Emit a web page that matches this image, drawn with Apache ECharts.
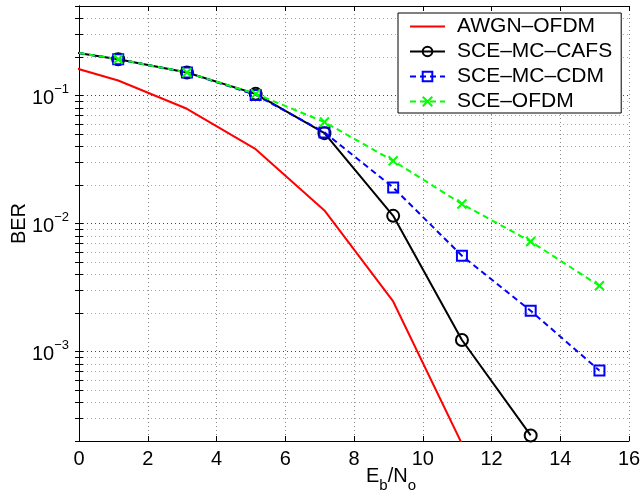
<!DOCTYPE html>
<html>
<head>
<meta charset="utf-8">
<script src="https://cdn.jsdelivr.net/npm/echarts@6/dist/echarts.min.js"></script>
<style>html,body{margin:0;padding:0;background:#fff}#chart{width:643px;height:491px}</style>
</head>
<body>
<div id="chart"></div>
<script>
var ebno = [-0.86, 1.14, 3.14, 5.14, 7.14, 9.14, 11.14, 13.14, 15.14];
var berAwgn = [0.187, 0.131, 0.0787, 0.0381, 0.01264, 0.00246, 0.00019];
var berCafs = [0.233, 0.192, 0.151, 0.103, 0.0508, 0.01148, 0.00123, 0.000221];
var berCdm  = [0.233, 0.192, 0.151, 0.101, 0.0515, 0.0191, 0.0056, 0.00208, 0.00071];
var berOfdm = [0.233, 0.192, 0.151, 0.103, 0.062, 0.0309, 0.0142, 0.00723, 0.00326];
var yDecades = [0.001, 0.01, 0.1];

// minor grid values 2..9 x 10^k between the axis limits
var yAll = [];
[0.0001, 0.001, 0.01, 0.1].forEach(function (d) {
    for (var m = 1; m <= 9; m++) {
        var v = +(m * d).toPrecision(3);
        if (v >= 0.0002 && v <= 0.5) yAll.push(v);
    }
});

var font = "'Liberation Sans', Arial, Helvetica, sans-serif";

function pairs(ys) {
    return ys.map(function (y, i) { return [ebno[i], y]; });
}

var chart = echarts.init(document.getElementById('chart'));

var expLabel = {
    b: { fontSize: 20, fontFamily: font, color: '#000', lineHeight: 26, verticalAlign: 'bottom' },
    s: { fontSize: 13, fontFamily: font, color: '#000', lineHeight: 13, verticalAlign: 'top' }
};

var option = {
    animation: false,
    backgroundColor: '#fff',
    grid: { left: 79, right: 14, top: 6, bottom: 50, outerBoundsMode: 'none' },
    legend: {
        orient: 'vertical',
        left: 398, top: 13,
        padding: [3, 9, 1, 11],
        itemWidth: 35, itemHeight: 12, itemGap: 4,
        borderColor: '#000', borderWidth: 1, backgroundColor: '#fff',
        textStyle: { fontSize: 21, fontFamily: font, color: '#000', lineHeight: 20, padding: [0, 0, 0, 7] },
        data: [
            { name: 'AWGN–OFDM', icon: 'path://M0,0H35V2H0Z' },
            'SCE–MC–CAFS', 'SCE–MC–CDM', 'SCE–OFDM'
        ]
    },
    xAxis: [{
        type: 'value', min: 0, max: 16, interval: 2, position: 'bottom',
        name: '{n|E}{u|b}{n|/N}{u|o}', nameLocation: 'middle', nameGap: 25,
        nameMoveOverlap: false,
        nameTextStyle: {
            padding: [0, 0, 0, 74],
            rich: {
                n: { fontSize: 20, fontFamily: font, color: '#000', lineHeight: 20, verticalAlign: 'top' },
                u: { fontSize: 15, fontFamily: font, color: '#000', lineHeight: 40, verticalAlign: 'middle' }
            }
        },
        axisLine: { lineStyle: { color: '#000', width: 1 } },
        axisTick: { inside: true, length: 5, lineStyle: { color: '#000' } },
        axisLabel: { fontSize: 20, fontFamily: font, color: '#000', margin: 8 },
        splitLine: { show: true, lineStyle: { color: '#888', type: [1, 3], width: 1 } }
    }, {
        type: 'value', min: 0, max: 16, interval: 2, position: 'top',
        axisLine: { lineStyle: { color: '#000', width: 1 } },
        axisTick: { inside: true, length: 5, lineStyle: { color: '#000' } },
        axisLabel: { show: false },
        splitLine: { show: false }
    }],
    yAxis: [{
        type: 'log', logBase: 10, min: 0.0002, max: 0.5, position: 'left',
        name: 'BER', nameLocation: 'middle', nameGap: 50,
        nameMoveOverlap: false,
        nameTextStyle: { fontSize: 20, fontFamily: font, color: '#000' },
        axisLine: { lineStyle: { color: '#000', width: 1 } },
        axisTick: { inside: true, length: 4, customValues: yAll, lineStyle: { color: '#000' } },
        axisLabel: {
            customValues: yDecades, margin: 10,
            formatter: function (v) {
                return '{b|10}{s|−' + Math.round(-Math.log10(v)) + '}';
            },
            rich: expLabel
        },
        splitLine: { show: true, lineStyle: { color: '#aaa', type: [1, 3], width: 1 } }
    }, {
        type: 'log', logBase: 10, min: 0.0002, max: 0.5, position: 'right',
        axisLine: { lineStyle: { color: '#000', width: 1 } },
        axisTick: { inside: true, length: 4, customValues: yAll, lineStyle: { color: '#000' } },
        axisLabel: { show: false },
        splitLine: { show: false }
    }, {
        type: 'log', logBase: 10, min: 0.0002, max: 0.5, position: 'left',
        axisLine: { show: false },
        axisTick: { show: false, customValues: yDecades },
        axisLabel: { show: false },
        splitLine: { show: true, lineStyle: { color: '#444', type: [1, 3], width: 1 } }
    }],
    series: [{
        name: 'AWGN–OFDM', type: 'line', data: pairs(berAwgn),
        symbol: 'none', color: '#ff0000',
        lineStyle: { color: '#ff0000', width: 2 }
    }, {
        name: 'SCE–MC–CAFS', type: 'line', data: pairs(berCafs),
        symbol: 'circle', symbolSize: 12, color: '#000',
        lineStyle: { color: '#000', width: 2 },
        itemStyle: { color: 'rgba(0,0,0,0)', borderColor: '#000', borderWidth: 2 }
    }, {
        name: 'SCE–MC–CDM', type: 'line', data: pairs(berCdm),
        symbol: 'rect', symbolSize: 10, color: '#0000ff',
        lineStyle: { color: '#0000ff', width: 2, type: [6, 4] },
        itemStyle: { color: 'rgba(0,0,0,0)', borderColor: '#0000ff', borderWidth: 2 }
    }, {
        name: 'SCE–OFDM', type: 'line', data: pairs(berOfdm),
        symbol: 'path://M0,0L10,10M10,0L0,10', symbolSize: 9, color: '#00ff00',
        lineStyle: { color: '#00ff00', width: 2, type: [6, 4] },
        itemStyle: { color: 'rgba(0,0,0,0)', borderColor: '#00ff00', borderWidth: 2 }
    }]
};

chart.setOption(option);
</script>
</body>
</html>
